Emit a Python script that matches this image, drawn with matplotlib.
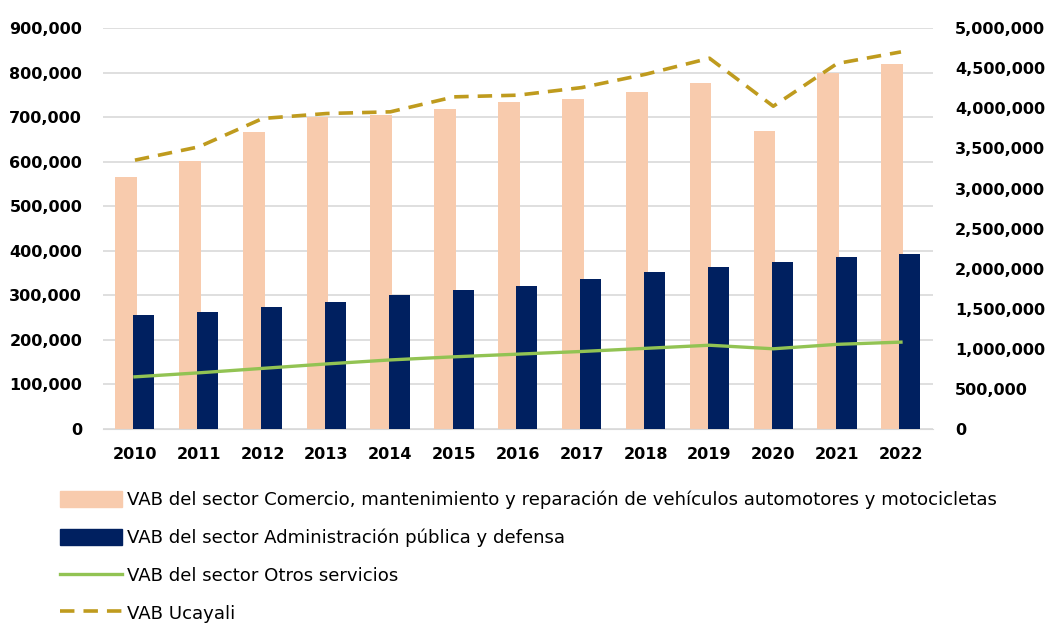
import matplotlib.pyplot as plt
import numpy as np
from matplotlib.patches import Patch
from matplotlib.lines import Line2D
from matplotlib.ticker import FuncFormatter

years = ['2010', '2011', '2012', '2013', '2014', '2015', '2016',
         '2017', '2018', '2019', '2020', '2021', '2022']

# VAB por sector (eje izquierdo)
comercio = [565000, 601000, 667000, 700000, 705000, 718000, 734000,
            740000, 756000, 776000, 669000, 799000, 819000]
administracion = [256000, 263000, 273000, 286000, 300000, 312000, 322000,
                  337000, 352000, 364000, 375000, 387000, 394000]
otros = [117000, 126000, 136000, 146000, 155000, 162000, 168000,
         174000, 181000, 188000, 180000, 190000, 195000]

# VAB total Ucayali (eje derecho)
ucayali = [3354000, 3520000, 3874000, 3936000, 3957000, 4144000, 4165000,
           4260000, 4426000, 4626000, 4027000, 4560000, 4705000]

lbl_comercio = 'VAB del sector Comercio, mantenimiento y reparación de vehículos automotores y motocicletas'
lbl_admin = 'VAB del sector Administración pública y defensa'
lbl_otros = 'VAB del sector Otros servicios'
lbl_ucayali = 'VAB Ucayali'

c_peach = '#F8CBAD'
c_navy = '#002060'
c_green = '#92C353'
c_gold = '#BF9B1E'

fig = plt.figure(figsize=(10.47, 6.28), dpi=100)
ax = fig.add_axes([0.0984, 0.317, 0.7926, 0.638])
ax2 = ax.twinx()

x = np.arange(len(years))
ax.bar(x - 0.14, comercio, width=0.34, color=c_peach, zorder=2)
ax.bar(x + 0.14, administracion, width=0.33, color=c_navy, zorder=3)
ax.plot(x, otros, color=c_green, lw=2.4, zorder=4)
ax2.plot(x, ucayali, color=c_gold, lw=2.6, dashes=(4, 2.5))

ax.set_xlim(-0.5, len(years) - 0.5)
ax.set_ylim(0, 900000)
ax2.set_ylim(0, 5000000)
ax.set_yticks(np.arange(0, 900001, 100000))
ax2.set_yticks(np.arange(0, 5000001, 500000))
fmt = FuncFormatter(lambda v, p: f'{int(v):,}')
ax.yaxis.set_major_formatter(fmt)
ax2.yaxis.set_major_formatter(fmt)
ax.set_xticks(x)
ax.set_xticklabels(years)

ax.grid(axis='y', color='#d9d9d9', lw=1.2, zorder=0)
ax.set_axisbelow(True)
for a in (ax, ax2):
    for s in a.spines.values():
        s.set_visible(False)
    a.tick_params(length=0, labelsize=11.5, colors='black')
    for t in a.get_xticklabels() + a.get_yticklabels():
        t.set_fontweight('bold')
ax.spines['bottom'].set_visible(True)
ax.spines['bottom'].set_color('#d9d9d9')
ax.tick_params(axis='y', pad=15)
ax.tick_params(axis='x', pad=13)
ax2.tick_params(axis='y', pad=16)

handles = [Patch(color=c_peach), Patch(color=c_navy),
           Line2D([], [], color=c_green, lw=2.4),
           Line2D([], [], color=c_gold, lw=2.6, dashes=(4, 2.5))]
labels = [lbl_comercio, lbl_admin, lbl_otros, lbl_ucayali]
fig.legend(handles, labels, loc='upper left', bbox_to_anchor=(0.057, 0.219),
           frameon=False, ncol=1, handlelength=3.4, handleheight=1.0,
           labelspacing=1.07, handletextpad=0.3, borderpad=0, borderaxespad=0,
           prop={'family': 'DejaVu Sans', 'size': 13.1})

fig.savefig('out.png', dpi=100)
